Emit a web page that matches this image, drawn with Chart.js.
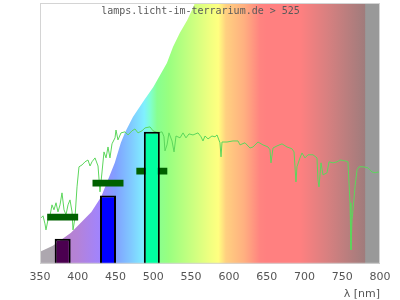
<!DOCTYPE html>
<html>
<head>
<meta charset="utf-8">
<script src="https://cdn.jsdelivr.net/npm/chart.js@4"></script>
<style>html,body{margin:0;padding:0;background:#fff;}canvas{display:block;}</style>
</head>
<body>
<canvas id="c" width="400" height="300"></canvas>
<script>
// ---- data ----
const titleText = 'lamps.licht-im-terrarium.de > 525';
const axisTitle = 'λ [nm]';
const xTicks = [350, 400, 450, 500, 550, 600, 650, 700, 750, 800];

// measured lamp spectrum (green line)
const specNm = [351.3,354.0,356.6,357.9,360.6,363.2,365.9,368.5,371.2,373.8,376.5,379.1,381.8,384.4,387.1,389.7,392.4,393.7,396.3,399.0,
  401.6,405.6,409.6,413.5,416.2,418.8,422.8,426.8,429.4,432.1,434.7,437.4,440.0,442.6,445.3,449.3,450.6,453.2,457.2,462.5,
  466.5,471.8,475.7,479.7,485.0,489.0,495.6,499.6,506.2,511.5,514.1,515.4,518.1,520.7,524.7,527.4,530.0,535.3,539.3,543.2,
  547.2,552.5,559.1,563.1,565.7,568.4,572.4,577.6,581.6,584.3,588.2,589.6,590.9,597.5,605.4,612.1,614.7,621.3,627.9,631.9,
  638.5,645.1,651.8,654.4,655.7,658.4,663.7,670.3,676.9,683.5,686.2,688.8,690.1,694.1,696.8,700.7,704.7,711.3,716.6,717.9,
  719.3,721.9,724.6,729.9,732.5,737.8,743.1,747.1,753.7,757.6,760.3,761.6,762.9,764.3,766.9,769.6,772.2,777.5,784.1,789.4,
  793.4,797.4,800.0];
const specVal = [17.6,18.4,15.3,13.0,16.9,18.4,22.6,20.7,23.4,19.9,22.6,27.2,20.7,18.8,22.6,24.5,19.9,13.0,17.6,29.5,
  37.2,37.9,39.1,39.8,37.5,39.1,40.6,37.5,27.6,35.2,42.9,40.6,44.8,40.6,46.0,48.3,51.3,47.5,50.2,50.6,
  49.4,51.0,51.7,50.2,51.0,52.1,52.5,51.0,50.2,50.6,48.7,43.3,45.6,50.2,47.1,42.9,49.0,48.3,50.2,48.3,
  49.8,49.4,50.2,48.7,47.1,49.0,47.9,49.0,48.7,49.4,46.4,41.0,46.7,46.7,47.1,47.1,45.6,46.4,44.4,44.8,
  46.7,45.6,44.8,43.7,38.7,44.4,45.2,46.0,44.8,44.1,42.9,31.4,37.2,40.6,42.5,40.6,41.8,41.8,40.6,32.2,
  29.5,38.7,34.1,34.9,39.1,38.7,39.1,39.8,39.5,39.1,23.4,5.4,16.9,20.7,29.5,36.0,37.2,37.2,36.8,35.2,
  34.9,35.2,34.9];

// eye-sensitivity style mask curve (white above)
const maskNm  = [350, 367, 391, 404, 418, 431, 440, 449, 457, 463, 473, 488, 500, 509, 518, 526, 535, 545, 553, 555];
const maskVal = [4.6, 6.9, 11.9, 15.7, 19.9, 25.7, 32.2, 38.7, 46.4, 50.6, 56.3, 62.8, 67.8, 72.4, 77.0, 83.1, 88.5, 93.5, 98.5, 100];

// LED bars
const ledNm = [380, 440, 498];
const ledVal = [9.6, 26.2, 50.6];
const ledColors = ['#4b0050', '#0000ff', '#00ffa0'];

// dark green range markers
const markNm = [380, 440, 498];
const markLow = [16.6, 29.6, 34.2];
const markHigh = [19.2, 32.2, 36.8];

// background spectrum colours
const bgNm = [350, 367, 376, 400, 430, 450, 470, 488, 496, 505, 520, 550, 575, 586, 596, 620, 641, 650, 694, 730, 780, 781, 800];
const bgColors = ['#ada7af','#ada7af','#b882c8','#b482d8','#a084ff','#80a0ff','#80c8ff','#80f0ff','#80ffd0','#88ff90','#98ff80','#c8ff80','#f0ff80','#ffff80','#ffd080','#ffb080','#ff8480','#ff8080','#ff8080','#d88080','#a07c7c','#999999','#999999'];

// ---- plugins ----
const bgPlugin = {
  id: 'bgSpectrum',
  beforeDatasetsDraw(chart) {
    const {ctx, chartArea: a, scales: {x}} = chart;
    const x0 = x.getPixelForValue(bgNm[0]);
    const x1 = x.getPixelForValue(bgNm[bgNm.length - 1]);
    const g = ctx.createLinearGradient(x0, 0, x1, 0);
    bgNm.forEach((nm, i) => g.addColorStop((x.getPixelForValue(nm) - x0) / (x1 - x0), bgColors[i]));
    ctx.save();
    ctx.fillStyle = g;
    ctx.fillRect(a.left, a.top, a.right - a.left, a.bottom - a.top);
    ctx.restore();
  }
};
const framePlugin = {
  id: 'frame',
  afterDatasetsDraw(chart) {
    const {ctx, chartArea: a} = chart;
    ctx.save();
    ctx.strokeStyle = '#d4d4d4';
    ctx.lineWidth = 1;
    ctx.strokeRect(a.left + 0.5, a.top + 0.5, a.right - a.left - 1, a.bottom - a.top - 1);
    ctx.restore();
  }
};
const titlePlugin = {
  id: 'innerTitle',
  afterDraw(chart) {
    const {ctx, chartArea: a} = chart;
    ctx.save();
    ctx.font = '10px "DejaVu Sans Mono"';
    ctx.fillStyle = '#5a5a5a';
    ctx.textAlign = 'center';
    ctx.textBaseline = 'alphabetic';
    ctx.fillText(titleText, chart.width / 2 + 0.5, a.top + 11);
    ctx.restore();
  }
};

new Chart(document.getElementById('c'), {
  type: 'line',
  data: {
    datasets: [
      {
        type: 'bar', label: 'LED', xAxisID: 'x', yAxisID: 'y', order: 0, grouped: false,
        data: ledNm.map((n, i) => ({x: n, y: ledVal[i]})),
        backgroundColor: ledColors, borderColor: '#000', borderWidth: 2,
        categoryPercentage: 1, barPercentage: 0.4235
      },
      {
        type: 'bar', label: 'range', xAxisID: 'x', yAxisID: 'y', order: 1, grouped: false,
        data: markNm.map((n, i) => ({x: n, y: [markLow[i], markHigh[i]]})),
        backgroundColor: '#006000', borderWidth: 0,
        categoryPercentage: 1, barPercentage: 0.82
      },
      {
        type: 'line', label: 'spectrum', xAxisID: 'x', yAxisID: 'y', order: 2,
        data: specNm.map((n, i) => ({x: n, y: specVal[i]})),
        borderColor: '#5cd65c', borderWidth: 1, pointRadius: 0, fill: false, tension: 0
      },
      {
        type: 'line', label: 'mask', xAxisID: 'x', yAxisID: 'y', order: 3,
        data: maskNm.map((n, i) => ({x: n, y: maskVal[i]})),
        borderWidth: 0, borderColor: 'rgba(0,0,0,0)', backgroundColor: '#ffffff',
        pointRadius: 0, fill: 'end', tension: 0
      }
    ]
  },
  options: {
    responsive: false,
    animation: false,
    devicePixelRatio: 1,
    layout: {padding: {left: 40, right: 20, top: 3, bottom: 0}},
    plugins: {legend: {display: false}, tooltip: {enabled: false}, title: {display: false}},
    scales: {
      x: {
        type: 'linear', min: 350, max: 800, offset: false,
        afterBuildTicks: (s) => { s.ticks = xTicks.map(v => ({value: v})); },
        grid: {display: false, drawTicks: false},
        border: {display: false},
        ticks: {color: '#555', font: {family: 'DejaVu Sans', size: 11, lineHeight: 1.2}, padding: 7, maxRotation: 0, autoSkip: false},
        title: {display: true, text: axisTitle, align: 'end', color: '#555',
                font: {family: 'DejaVu Sans', size: 11, lineHeight: 1}, padding: {top: -2, bottom: 0}}
      },
      y: {display: false, min: 0, max: 100}
    }
  },
  plugins: [bgPlugin, framePlugin, titlePlugin]
});
</script>
</body>
</html>
